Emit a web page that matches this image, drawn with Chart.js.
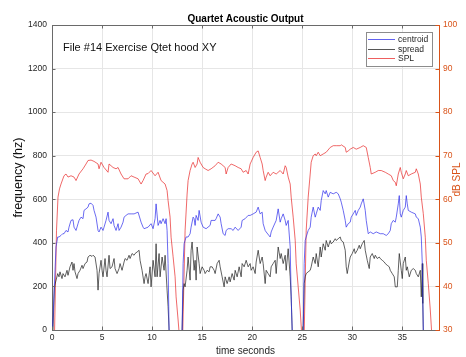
<!DOCTYPE html>
<html>
<head>
<meta charset="utf-8">
<script src="https://cdn.jsdelivr.net/npm/chart.js@4.4.0/dist/chart.umd.min.js"></script>
<style>
html,body{margin:0;padding:0;background:#fff;}
#wrap{width:466px;height:357px;position:relative;}
</style>
</head>
<body>
<div id="wrap"><canvas id="c" width="466" height="357"></canvas></div>
<script>
// ---- data ----
const chartTitle = "Quartet Acoustic Output";
const noteText = "File #14 Exercise Qtet hood XY";
const seriesNames = ["centroid", "spread", "SPL"];
const xTicks = [0, 5, 10, 15, 20, 25, 30, 35];
const leftTicks = [0, 200, 400, 600, 800, 1000, 1200, 1400];
const rightTicks = [30, 40, 50, 60, 70, 80, 90, 100];

const centroidTime = [
 0.05,0.4,0.57,0.7,0.9,1.07,1.2,1.4,1.6,1.7,
 1.9,2.1,2.2,2.4,2.6,2.7,2.9,3.1,3.2,3.4,
 3.6,3.7,3.9,4.1,4.2,4.4,4.6,4.7,4.9,5.1,
 5.2,5.4,5.6,5.7,5.9,6.1,6.2,6.4,6.6,6.7,
 6.9,7.1,7.2,7.4,7.6,7.9,8.2,8.6,8.9,9.1,
 9.2,9.6,9.9,10.1,10.3,10.4,10.6,10.8,10.9,11.1,
 11.3,11.4,11.5,11.6,11.7,12.3,13.0,13.1,13.2,13.3,
 13.4,13.6,13.8,13.9,14.1,14.2,14.3,14.4,14.6,14.7,
 14.9,15.1,15.4,15.8,15.9,16.3,16.4,16.6,16.8,16.9,
 17.1,17.3,17.4,17.6,17.9,18.1,18.3,18.6,18.9,19.0,
 19.3,19.6,19.8,20.1,20.4,20.6,20.8,21.0,21.1,21.3,
 21.4,21.8,21.9,22.1,22.4,22.6,22.8,22.9,23.1,23.3,
 23.4,23.6,23.8,23.9,24.0,24.5,25.1,25.2,25.3,25.4,
 25.6,25.8,25.9,26.1,26.3,26.4,26.6,26.8,26.9,27.1,
 27.3,27.4,27.6,27.8,28.1,28.4,28.6,28.8,28.9,29.1,
 29.3,29.4,29.6,29.8,29.9,30.1,30.3,30.4,30.6,30.8,
 30.9,31.1,31.3,31.4,31.6,31.8,32.1,32.4,32.8,33.1,
 33.4,33.6,33.8,33.9,34.1,34.3,34.4,34.6,34.7,34.8,
 34.9,35.1,35.3,35.4,35.5,35.6,35.9,36.3,36.4,36.6,
 36.8,36.9,37.0,37.1
];
const centroidHz = [
 0,381,427,427,434,442,442,457,450,472,
 503,506,472,457,488,503,518,511,549,556,
 564,579,582,572,549,518,457,450,472,457,
 472,503,541,503,488,511,480,457,488,457,
 472,495,518,526,533,533,533,541,495,472,
 465,472,488,465,511,579,480,503,488,511,
 488,511,457,305,0,null,0,305,396,411,
 427,427,442,472,518,511,480,526,503,549,
 495,472,465,480,503,503,511,533,518,488,
 442,434,457,465,465,457,472,457,472,503,
 511,526,526,533,541,564,533,541,488,457,
 450,427,450,472,503,556,495,511,533,503,
 480,503,381,152,0,null,0,305,411,427,
 457,472,518,564,518,533,564,549,594,640,
 625,640,610,632,625,632,625,602,587,549,
 503,472,488,495,518,533,549,526,549,564,
 579,602,549,503,442,450,442,450,442,442,
 434,442,457,488,503,495,518,579,617,533,
 518,549,564,617,579,549,541,533,518,511,
 472,427,305,0
];

const spreadTime = [
 0.1,0.24,0.57,0.7,0.8,1.0,1.1,1.3,1.5,1.6,
 1.8,2.0,2.1,2.2,2.3,2.5,2.6,2.8,3.0,3.1,
 3.3,3.5,3.6,3.8,4.0,4.1,4.3,4.5,4.6,4.7,
 4.9,5.0,5.1,5.3,5.4,5.5,5.7,5.8,6.0,6.2,
 6.3,6.5,6.7,6.8,7.0,7.2,7.3,7.5,7.7,7.8,
 8.0,8.2,8.3,8.5,8.7,8.8,9.0,9.2,9.3,9.4,
 9.6,9.8,9.9,10.1,10.3,10.4,10.5,10.7,10.8,11.0,
 11.2,11.3,11.5,11.6,11.7,12.3,13.0,13.1,13.2,13.3,
 13.5,13.6,13.8,13.9,14.0,14.2,14.3,14.4,14.5,14.7,
 14.8,15.0,15.2,15.3,15.5,15.7,15.8,16.0,16.2,16.3,
 16.5,16.7,16.8,17.0,17.2,17.3,17.5,17.7,17.8,18.0,
 18.2,18.3,18.5,18.7,18.9,19.0,19.2,19.4,19.6,19.8,
 19.9,20.1,20.3,20.4,20.6,20.8,21.0,21.1,21.3,21.4,
 21.6,21.8,21.9,22.1,22.3,22.4,22.6,22.8,22.9,23.1,
 23.3,23.4,23.6,23.8,23.9,24.0,24.5,25.1,25.2,25.3,
 25.4,25.6,25.8,25.9,26.1,26.3,26.4,26.6,26.8,26.9,
 27.1,27.3,27.4,27.6,27.8,27.9,28.1,28.3,28.4,28.6,
 28.8,28.9,29.1,29.3,29.4,29.5,29.7,29.8,30.0,30.2,
 30.3,30.5,30.7,30.8,31.0,31.2,31.3,31.5,31.7,31.8,
 32.0,32.2,32.3,32.5,32.7,32.8,33.0,33.2,33.3,33.5,
 33.7,33.8,34.0,34.2,34.3,34.5,34.6,34.7,34.9,35.0,
 35.1,35.3,35.4,35.5,35.7,35.9,36.1,36.3,36.4,36.6,
 36.8,36.9,37.0,37.05,37.1
];
const spreadHz = [
 0,198,259,244,267,236,259,244,274,251,
 290,312,274,305,267,236,259,274,297,282,
 305,312,335,343,338,343,335,274,183,259,
 320,274,244,328,274,244,343,282,290,328,
 282,259,282,305,274,312,328,320,343,328,
 351,343,351,358,366,320,274,213,244,259,
 213,290,198,320,244,396,244,351,244,335,
 274,343,183,107,0,null,0,183,213,198,
 274,335,229,366,404,274,320,229,381,305,
 259,290,274,259,274,267,290,290,274,259,
 305,320,290,244,198,244,213,244,221,259,
 229,274,244,290,244,305,290,320,290,305,
 274,290,259,312,366,305,335,305,213,274,
 259,244,290,305,320,259,381,328,351,305,
 343,274,373,244,152,0,null,0,213,244,
 259,267,274,290,335,305,351,290,381,335,
 396,366,411,381,411,396,404,419,411,419,
 427,411,404,366,290,259,312,335,351,373,
 351,366,389,373,396,411,366,320,282,335,
 351,328,343,328,335,328,320,312,305,297,
 290,274,259,244,198,198,274,351,274,236,
 305,335,274,290,244,274,282,274,259,244,
 274,152,305,122,0
];

const splTime = [
 0.25,0.45,0.6,0.75,0.9,1.2,1.4,1.6,1.9,2.2,
 2.4,2.7,3.1,3.4,3.6,3.9,4.2,4.6,4.7,4.9,
 5.2,5.6,5.7,6.1,6.4,6.6,6.9,7.2,7.6,7.9,
 8.2,8.6,8.9,9.1,9.4,9.6,9.9,10.3,10.6,10.9,
 11.3,11.5,11.6,11.8,11.9,12.1,12.3,12.4,12.6,12.75,
 12.9,13.05,13.3,13.5,13.6,13.8,14.0,14.1,14.3,14.5,
 14.6,14.8,14.9,15.1,15.3,15.6,15.9,16.3,16.6,16.9,
 17.3,17.4,17.6,17.9,18.3,18.6,18.9,19.1,19.4,19.6,
 19.8,20.1,20.3,20.4,20.6,20.8,21.0,21.1,21.3,21.4,
 21.6,21.8,22.1,22.4,22.8,23.1,23.3,23.4,23.6,23.8,
 23.9,24.1,24.3,24.4,24.6,24.8,24.95,25.05,25.2,25.4,
 25.6,25.8,25.9,26.1,26.3,26.4,26.6,26.8,27.1,27.4,
 27.8,28.1,28.4,28.8,28.9,29.3,29.4,29.6,29.8,30.1,
 30.4,30.8,31.1,31.4,31.6,31.8,31.9,32.3,32.6,32.9,
 33.3,33.6,33.9,34.1,34.3,34.4,34.6,34.8,34.9,35.1,
 35.3,35.4,35.6,35.9,36.3,36.4,36.6,36.8,36.9,37.1,
 37.3,37.4,37.6,37.8,37.95,38.1
];
const splDb = [
 29,52.9,60.5,62.4,63.5,65.4,65.8,65.1,65.4,65.1,
 64.3,65.8,67.0,68.1,68.9,69.0,68.7,68.1,67.0,68.5,
 67.3,66.2,68.1,67.3,67.0,67.3,65.8,64.7,64.7,65.4,
 65.1,64.7,63.5,64.3,65.8,65.9,66.6,65.4,66.2,64.3,
 63.5,62.0,59.7,55.9,51.3,46.8,42.2,37.6,32.3,28,
 24,28,52.9,61.2,64.3,66.6,68.1,68.5,67.3,68.1,
 69.6,68.5,68.1,67.3,67.0,66.6,67.0,67.7,68.5,68.1,
 67.3,65.8,67.3,68.1,67.7,67.3,67.0,66.2,66.6,65.8,
 68.1,69.6,70.4,70.8,71.1,69.6,68.1,66.6,64.3,65.1,
 66.2,65.4,66.2,65.8,66.6,65.8,67.7,67.3,65.1,63.5,
 60.5,55.9,50.6,45.2,39.9,34.6,29,25,29,52.9,
 60.5,65.8,68.5,70.0,70.4,70.0,70.8,70.0,70.4,70.8,
 71.9,72.3,72.3,72.3,72.5,71.9,70.8,71.1,71.5,71.9,
 71.5,71.9,72.3,71.9,69.6,67.3,65.8,66.2,66.6,66.6,
 66.2,65.8,65.4,64.3,63.9,63.1,65.8,67.3,66.2,64.7,
 65.8,66.6,65.4,65.8,66.2,67.0,65.8,63.5,60.5,56.7,
 51.3,46.0,40.7,34.6,29,25
];

// ---- build library structures ----
function pts(ts, vs){ return ts.map((t,i)=>({x:t, y:vs[i]})); }

const FONT = "'Liberation Sans', Arial, Helvetica, sans-serif";
const ORANGE = "rgb(217,83,25)";
const AXIS = "#6a6a6a";
const TXT = "#262626";
const GRID = "#e6e6e6";
const COLORS = ['rgb(45,45,235)', 'rgb(30,30,30)', 'rgb(232,40,40)'];

const decor = {
  id: 'decor',
  afterDraw(chart){
    const ctx = chart.ctx, a = chart.chartArea;
    const sx = chart.scales.x, sy = chart.scales.y, sr = chart.scales.y2;
    ctx.save();
    // top border
    ctx.strokeStyle = AXIS; ctx.lineWidth = 1;
    ctx.beginPath(); ctx.moveTo(a.left, a.top+0.5); ctx.lineTo(a.right, a.top+0.5); ctx.stroke();
    // inward tick marks
    ctx.beginPath();
    xTicks.forEach(v=>{
      const px = Math.round(sx.getPixelForValue(v))+0.5;
      ctx.moveTo(px, a.bottom); ctx.lineTo(px, a.bottom-3.5);
      ctx.moveTo(px, a.top); ctx.lineTo(px, a.top+3.5);
    });
    leftTicks.forEach(v=>{
      const py = Math.round(sy.getPixelForValue(v))+0.5;
      ctx.moveTo(a.left, py); ctx.lineTo(a.left+3.5, py);
    });
    ctx.stroke();
    ctx.strokeStyle = ORANGE;
    ctx.beginPath();
    rightTicks.forEach(v=>{
      const py = Math.round(sr.getPixelForValue(v))+0.5;
      ctx.moveTo(a.right, py); ctx.lineTo(a.right-3.5, py);
    });
    ctx.stroke();

    // title
    ctx.fillStyle = "#000";
    ctx.font = "bold 10px " + FONT;
    ctx.textAlign = "center"; ctx.textBaseline = "alphabetic";
    ctx.fillText(chartTitle, (a.left+a.right)/2, 22);

    // note
    ctx.fillStyle = "#111";
    ctx.font = "11px " + FONT;
    ctx.textAlign = "left";
    ctx.fillText(noteText, 63, 51);

    // x title
    ctx.fillStyle = TXT;
    ctx.font = "10px " + FONT;
    ctx.textAlign = "center"; ctx.textBaseline = "middle";
    ctx.fillText("time seconds", (a.left+a.right)/2, 351.5);

    // left y title
    ctx.save();
    ctx.translate(19, (a.top+a.bottom)/2);
    ctx.rotate(-Math.PI/2);
    ctx.font = "12.5px " + FONT;
    ctx.fillStyle = "#111";
    ctx.fillText("frequency (hz)", 0, 0);
    ctx.restore();

    // right y title
    ctx.save();
    ctx.translate(457, (a.top+a.bottom)/2 + 2);
    ctx.rotate(-Math.PI/2);
    ctx.font = "10px " + FONT;
    ctx.fillStyle = ORANGE;
    ctx.fillText("dB SPL", 0, 0);
    ctx.restore();

    // legend
    const lx = 366, ly = 32, lw = 66, lh = 34;
    ctx.fillStyle = "#fff";
    ctx.fillRect(lx, ly, lw, lh);
    ctx.strokeStyle = "#8c8c8c"; ctx.lineWidth = 1;
    ctx.strokeRect(lx+0.5, ly+0.5, lw, lh);
    const rows = [39.5, 49.5, 58.5];
    chart.data.datasets.forEach((ds, i)=>{
      ctx.strokeStyle = COLORS[i]; ctx.lineWidth = 1;
      ctx.globalAlpha = 0.75;
      ctx.beginPath(); ctx.moveTo(368, rows[i]); ctx.lineTo(395, rows[i]); ctx.stroke();
      ctx.globalAlpha = 1;
      ctx.fillStyle = TXT;
      ctx.font = "8.5px " + FONT;
      ctx.textAlign = "left"; ctx.textBaseline = "middle";
      ctx.fillText(ds.label, 398, rows[i]);
    });
    ctx.restore();
  }
};

const plain = v => String(v);

new Chart(document.getElementById('c'), {
  type: 'line',
  data: {
    datasets: [
      { label: seriesNames[0], data: pts(centroidTime, centroidHz), yAxisID: 'y',
        borderColor: COLORS[0], borderWidth: 0.7, pointRadius: 0, spanGaps: false, tension: 0 },
      { label: seriesNames[1], data: pts(spreadTime, spreadHz), yAxisID: 'y',
        borderColor: COLORS[1], borderWidth: 0.7, pointRadius: 0, spanGaps: false, tension: 0 },
      { label: seriesNames[2], data: pts(splTime, splDb), yAxisID: 'y2',
        borderColor: COLORS[2], borderWidth: 0.7, pointRadius: 0, spanGaps: false, tension: 0 }
    ]
  },
  options: {
    responsive: false,
    animation: false,
    devicePixelRatio: 1,
    layout: { padding: { top: 25, left: 0, right: 0, bottom: 0 } },
    plugins: { legend: { display: false }, title: { display: false }, tooltip: { enabled: false } },
    scales: {
      x: {
        type: 'linear', position: 'bottom', min: 0, max: 38.67,
        afterBuildTicks: s => { s.ticks = xTicks.map(v => ({ value: v })); },
        afterFit: s => { s.height = 27; },
        ticks: { color: TXT, font: { family: FONT, size: 8.5 }, padding: 3, maxRotation: 0, autoSkip: false, callback: plain },
        grid: { color: GRID, drawTicks: false, lineWidth: 1 },
        border: { color: AXIS, width: 1 }
      },
      y: {
        type: 'linear', position: 'left', min: 0, max: 1400,
        afterBuildTicks: s => { s.ticks = leftTicks.map(v => ({ value: v })); },
        afterFit: s => { s.width = 52; },
        ticks: { color: TXT, font: { family: FONT, size: 8.5 }, padding: 5, callback: plain },
        grid: { color: GRID, drawTicks: false, lineWidth: 1 },
        border: { color: AXIS, width: 1 }
      },
      y2: {
        type: 'linear', position: 'right', min: 30, max: 100,
        afterBuildTicks: s => { s.ticks = rightTicks.map(v => ({ value: v })); },
        afterFit: s => { s.width = 27; },
        ticks: { color: ORANGE, font: { family: FONT, size: 8.5 }, padding: 4, callback: plain },
        grid: { drawOnChartArea: false, drawTicks: false },
        border: { color: ORANGE, width: 1 }
      }
    }
  },
  plugins: [decor]
});
</script>
</body>
</html>
